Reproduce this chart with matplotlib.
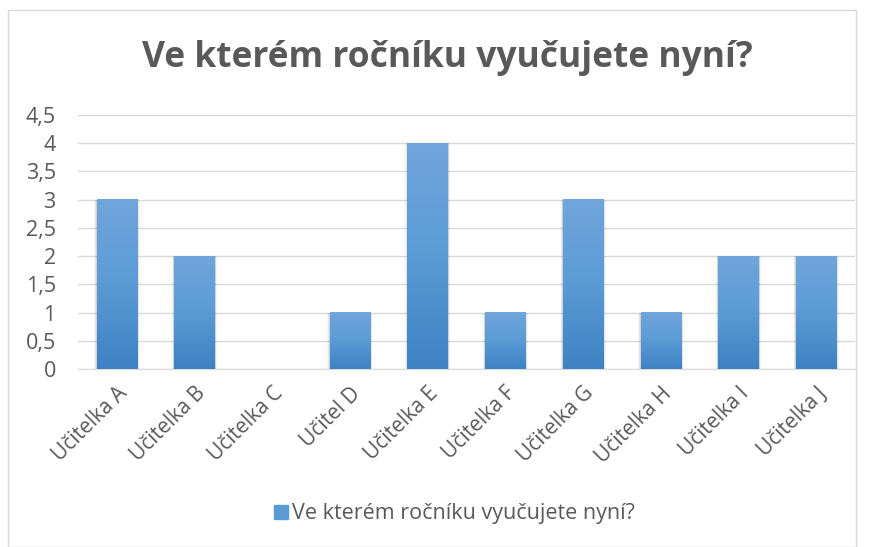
import matplotlib.pyplot as plt
import numpy as np
from matplotlib.colors import LinearSegmentedColormap
from matplotlib.patches import Rectangle

teachers = ['Učitelka A', 'Učitelka B', 'Učitelka C', 'Učitel D', 'Učitelka E',
            'Učitelka F', 'Učitelka G', 'Učitelka H', 'Učitelka I', 'Učitelka J']
values = [3, 2, 0, 1, 4, 1, 3, 1, 2, 2]
yticks = [0, 0.5, 1, 1.5, 2, 2.5, 3, 3.5, 4, 4.5]
title = 'Ve kterém ročníku vyučujete nyní?'

plt.rcParams['font.family'] = ['Open Sans', 'DejaVu Sans']
grey = '#595959'

fig = plt.figure(figsize=(8.71, 5.47), dpi=100)
fig.patches.append(Rectangle((8 / 871, 0), 848 / 871, 537 / 547, transform=fig.transFigure,
                             fill=False, edgecolor='#d9d9d9', lw=1))
ax = fig.add_axes([78 / 871, (547 - 369) / 547, 777 / 871, 254 / 547])

x = np.arange(len(teachers))
bw = 0.52
cmap = LinearSegmentedColormap.from_list('bar', ['#3d82c3', '#5b9bd5', '#70a6db'])
grad = np.linspace(0, 1, 256).reshape(-1, 1)

# soft shadow + gradient fill
for xi, v in zip(x, values):
    if v <= 0:
        continue
    for k, a in enumerate([0.04, 0.06, 0.08]):
        off = 0.03 - k * 0.009
        ax.add_patch(Rectangle((xi - bw / 2 - off, 0), bw + 2 * off, v,
                               facecolor='black', alpha=a, lw=0, zorder=2))
    ax.imshow(grad, extent=(xi - bw / 2, xi + bw / 2, 0, v), origin='lower',
              cmap=cmap, aspect='auto', zorder=3)

ax.set_xlim(-0.5, len(teachers) - 0.5)
ax.set_ylim(0, 4.5)
ax.set_yticks(yticks)
ax.set_yticklabels([str(t).replace('.', ',').replace(',0', '') for t in yticks],
                   fontsize=15.5, color=grey)
ax.set_xticks(x)
ax.set_xticklabels(teachers, rotation=45, ha='right', rotation_mode='anchor',
                   fontsize=15, color=grey)
ax.tick_params(axis='both', length=0)
ax.tick_params(axis='y', pad=16)
ax.tick_params(axis='x', pad=10)
ax.yaxis.grid(True, color='#d9d9d9', lw=1)
ax.set_axisbelow(True)
for s in ['top', 'right', 'left']:
    ax.spines[s].set_visible(False)
ax.spines['bottom'].set_color('#d9d9d9')

fig.text(0.514, 1 - 58 / 547, title, ha='center', va='center', fontsize=25.5,
         fontweight='bold', color=grey)

leg = fig.legend(handles=[Rectangle((0, 0), 1, 1, color='#5b9bd5')], labels=[title],
                 loc='center', bbox_to_anchor=(0.522, 1 - 514 / 547), frameon=False,
                 fontsize=15.5, handlelength=0.65, handleheight=0.65, handletextpad=0.2)
for t in leg.get_texts():
    t.set_color(grey)

fig.savefig('out.png', dpi=100)
